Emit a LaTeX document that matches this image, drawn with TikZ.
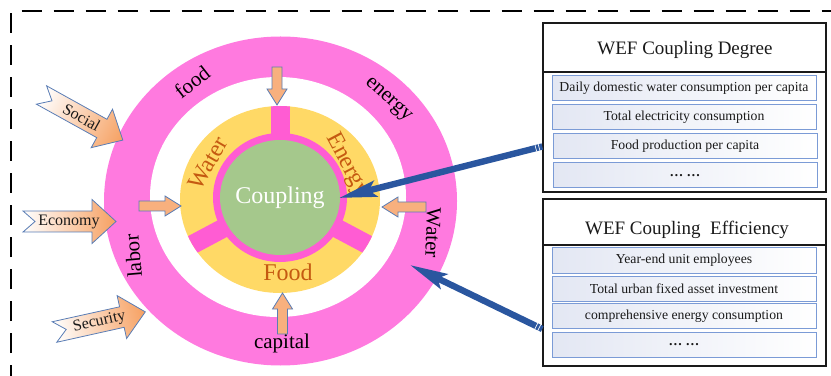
\documentclass[tikz,border=0pt]{standalone}
\usepackage{fontspec}
\setmainfont{Liberation Serif}
\usetikzlibrary{arrows.meta,calc}

\definecolor{ringpink}{HTML}{FF7ADF}
\definecolor{spokepink}{HTML}{FF5CD3}
\definecolor{ringyellow}{HTML}{FFD966}
\definecolor{coregreen}{HTML}{A5C88C}
\definecolor{labelorange}{HTML}{C55A11}
\definecolor{arrowfill}{HTML}{F8B07E}
\definecolor{arrowline}{HTML}{5A7DB5}
\definecolor{linkblue}{HTML}{2A569F}
\definecolor{rowline}{HTML}{7B9BD6}
\definecolor{rowshade}{HTML}{E3E7F3}
\definecolor{factorfill}{HTML}{F6A061}
\definecolor{inktext}{HTML}{1A1A1A}

\newcommand{\pxs}{0.75pt}

% inward pointing block arrow: tail point, rotation, length
\newcommand{\smallarrow}[4]{%
  \draw[inarrow, shift={(#1,#2)}, rotate=#3]
    (0,5) -- (#4-16,5) -- (#4-16,10) -- (#4,0) -- (#4-16,-10) -- (#4-16,-5) -- (0,-5) -- cycle;}

% notched factor arrow with its label: name, tail point, rotation, text
\newcommand{\factorarrow}[5]{%
  \begin{scope}[transform canvas={shift={(#2,#3)},rotate=#4}]
    \path[factorshape] (0,10.5) -- (69,10.5) -- (69,22) -- (93,0) -- (69,-22)
      -- (69,-10.5) -- (0,-10.5) -- (12,0) -- cycle;
    \node[factortext] (#1) at (46,0) {#5};
  \end{scope}}

\tikzset{
  inarrow/.style={fill=arrowfill, draw=arrowline, line width=0.6pt, line join=miter},
  factorshape/.style={left color=white, right color=factorfill, draw=arrowline, line width=0.6pt},
  factortext/.style={inner sep=0pt, text=inktext, font=\fontsize{12}{14}\selectfont},
  ringlabel/.style={inner sep=0pt, text=black, font=\fontsize{15.75}{18}\selectfont},
  sectorlabel/.style={inner sep=0pt, text=labelorange, font=\fontsize{18}{21}\selectfont},
  panel/.style={draw=inktext, line width=1.1pt, minimum width=283*\pxs, inner sep=0pt},
  paneltitle/.style={inner sep=0pt, text=inktext, font=\fontsize{14.25}{17}\selectfont},
  rowbox/.style={left color=rowshade, right color=white, draw=rowline, line width=0.75pt,
    minimum width=264*\pxs, minimum height=25*\pxs, inner sep=0pt, text=inktext,
    font=\fontsize{10.3}{12}\selectfont},
  link/.style={draw=linkblue, line width=4.8pt,
    -{Stealth[length=28pt, width=12pt, inset=5pt]}},
  frame/.style={line width=1.5pt, dash pattern=on 15pt off 9pt},
}

\begin{document}
\begin{tikzpicture}[x=0.75pt,y=0.75pt]
\useasboundingbox (0,0) rectangle (831,375);

% dashed frame
\draw[frame] (11,-10) -- (11,363.5) -- (840,363.5);

% outer ring
\fill[ringpink] (280.5,174) ellipse [x radius=176.5, y radius=164.5];
\fill[white] (278,178) ellipse [x radius=128, y radius=120];

% sector ring with three spokes
\fill[ringyellow] (280,175.5) ellipse [x radius=100, y radius=93.5];
\begin{scope}
  \clip (280,175.5) ellipse [x radius=100, y radius=93.5];
  \foreach \a in {90,208,332}
    \fill[spokepink, rotate around={\a:(280,177)}] (280,167.5) rectangle (390,186.5);
\end{scope}
\fill[spokepink] (280,177.5) ellipse [x radius=67, y radius=64.5];
\fill[coregreen] (280,177.5) ellipse [x radius=60, y radius=57.5];
\node[inner sep=0pt, text=white, font=\fontsize{18}{21}\selectfont] (core) at (280,177) {Coupling};

% sector labels
\node[sectorlabel, rotate=60] (swater) at (208,212) {Water};
\node[sectorlabel, rotate=-62] (senergy) at (347,210) {Energy};
\node[sectorlabel] (sfood) at (288,103) {Food};

% outer ring labels
\node[ringlabel, rotate=38] (rfood) at (192,293) {food};
\node[ringlabel, rotate=-42] (renergy) at (388,275) {energy};
\node[ringlabel, rotate=-92] (rwater) at (433,142) {Water};
\node[ringlabel, rotate=95] (rlabor) at (133,119) {labor};
\node[ringlabel] (rcapital) at (282,32) {capital};

% inward arrows between the rings
\smallarrow{277}{308}{-90}{38}
\smallarrow{282.5}{41}{90}{41}
\smallarrow{139}{169}{0}{42}
\smallarrow{426}{168}{180}{44}

% external factors
\factorarrow{fsocial}{41.5}{280}{-29}{Social}
\factorarrow{feconomy}{23}{153.5}{0}{Economy}
\factorarrow{fsecurity}{54.5}{43}{12.5}{Security}

% indicator panels
\node[panel, minimum height=169*\pxs] (box1) at (684.5,267.5) {};
\draw[draw=inktext, line width=1.1pt] (box1.west |- 0,303) -- (box1.east |- 0,303);
\node[paneltitle] (title1) at (685,325) {WEF Coupling Degree};
\node[rowbox] (deg1) at (684,286.5) {Daily domestic water consumption per capita};
\node[rowbox] (deg2) at (684,257.5) {Total electricity consumption};
\node[rowbox] (deg3) at (685,228.5) {Food production per capita};
\node[rowbox] (deg4) at (685,199.5) {\textbf{\dots\ \dots}};

\node[panel, minimum height=167*\pxs] (box2) at (684.5,92.5) {};
\draw[draw=inktext, line width=1.1pt] (box2.west |- 0,130) -- (box2.east |- 0,130);
\node[paneltitle] (title2) at (687,145) {WEF Coupling\ \ Efficiency};
\node[rowbox] (eff1) at (684,114.5) {Year-end unit employees};
\node[rowbox] (eff2) at (684,86.5) {Total urban fixed asset investment};
\node[rowbox] (eff3) at (684,59) {comprehensive energy consumption};
\node[rowbox] (eff4) at (684,30) {\textbf{\dots\ \dots}};

% links from the panels into the diagram
\coordinate (tip1) at (339,177);
\coordinate (tip2) at (410,110);
\coordinate (tail1) at (box1.west |- deg3);
\coordinate (tail2) at (box2.west |- eff3.south);
\draw[link] (tail1) -- (tip1);
\draw[link] (tail2) -- (tip2);
\foreach \t/\h in {tail1/tip1, tail2/tip2}
  \foreach \d in {2.5,5} {
    \path ($(\t)!\d pt!(\h)$) coordinate (m);
    \draw[white, line width=0.5pt] ($(m)!2.6pt!90:(\h)$) -- ($(m)!2.6pt!-90:(\h)$);
  }
\end{tikzpicture}
\end{document}
